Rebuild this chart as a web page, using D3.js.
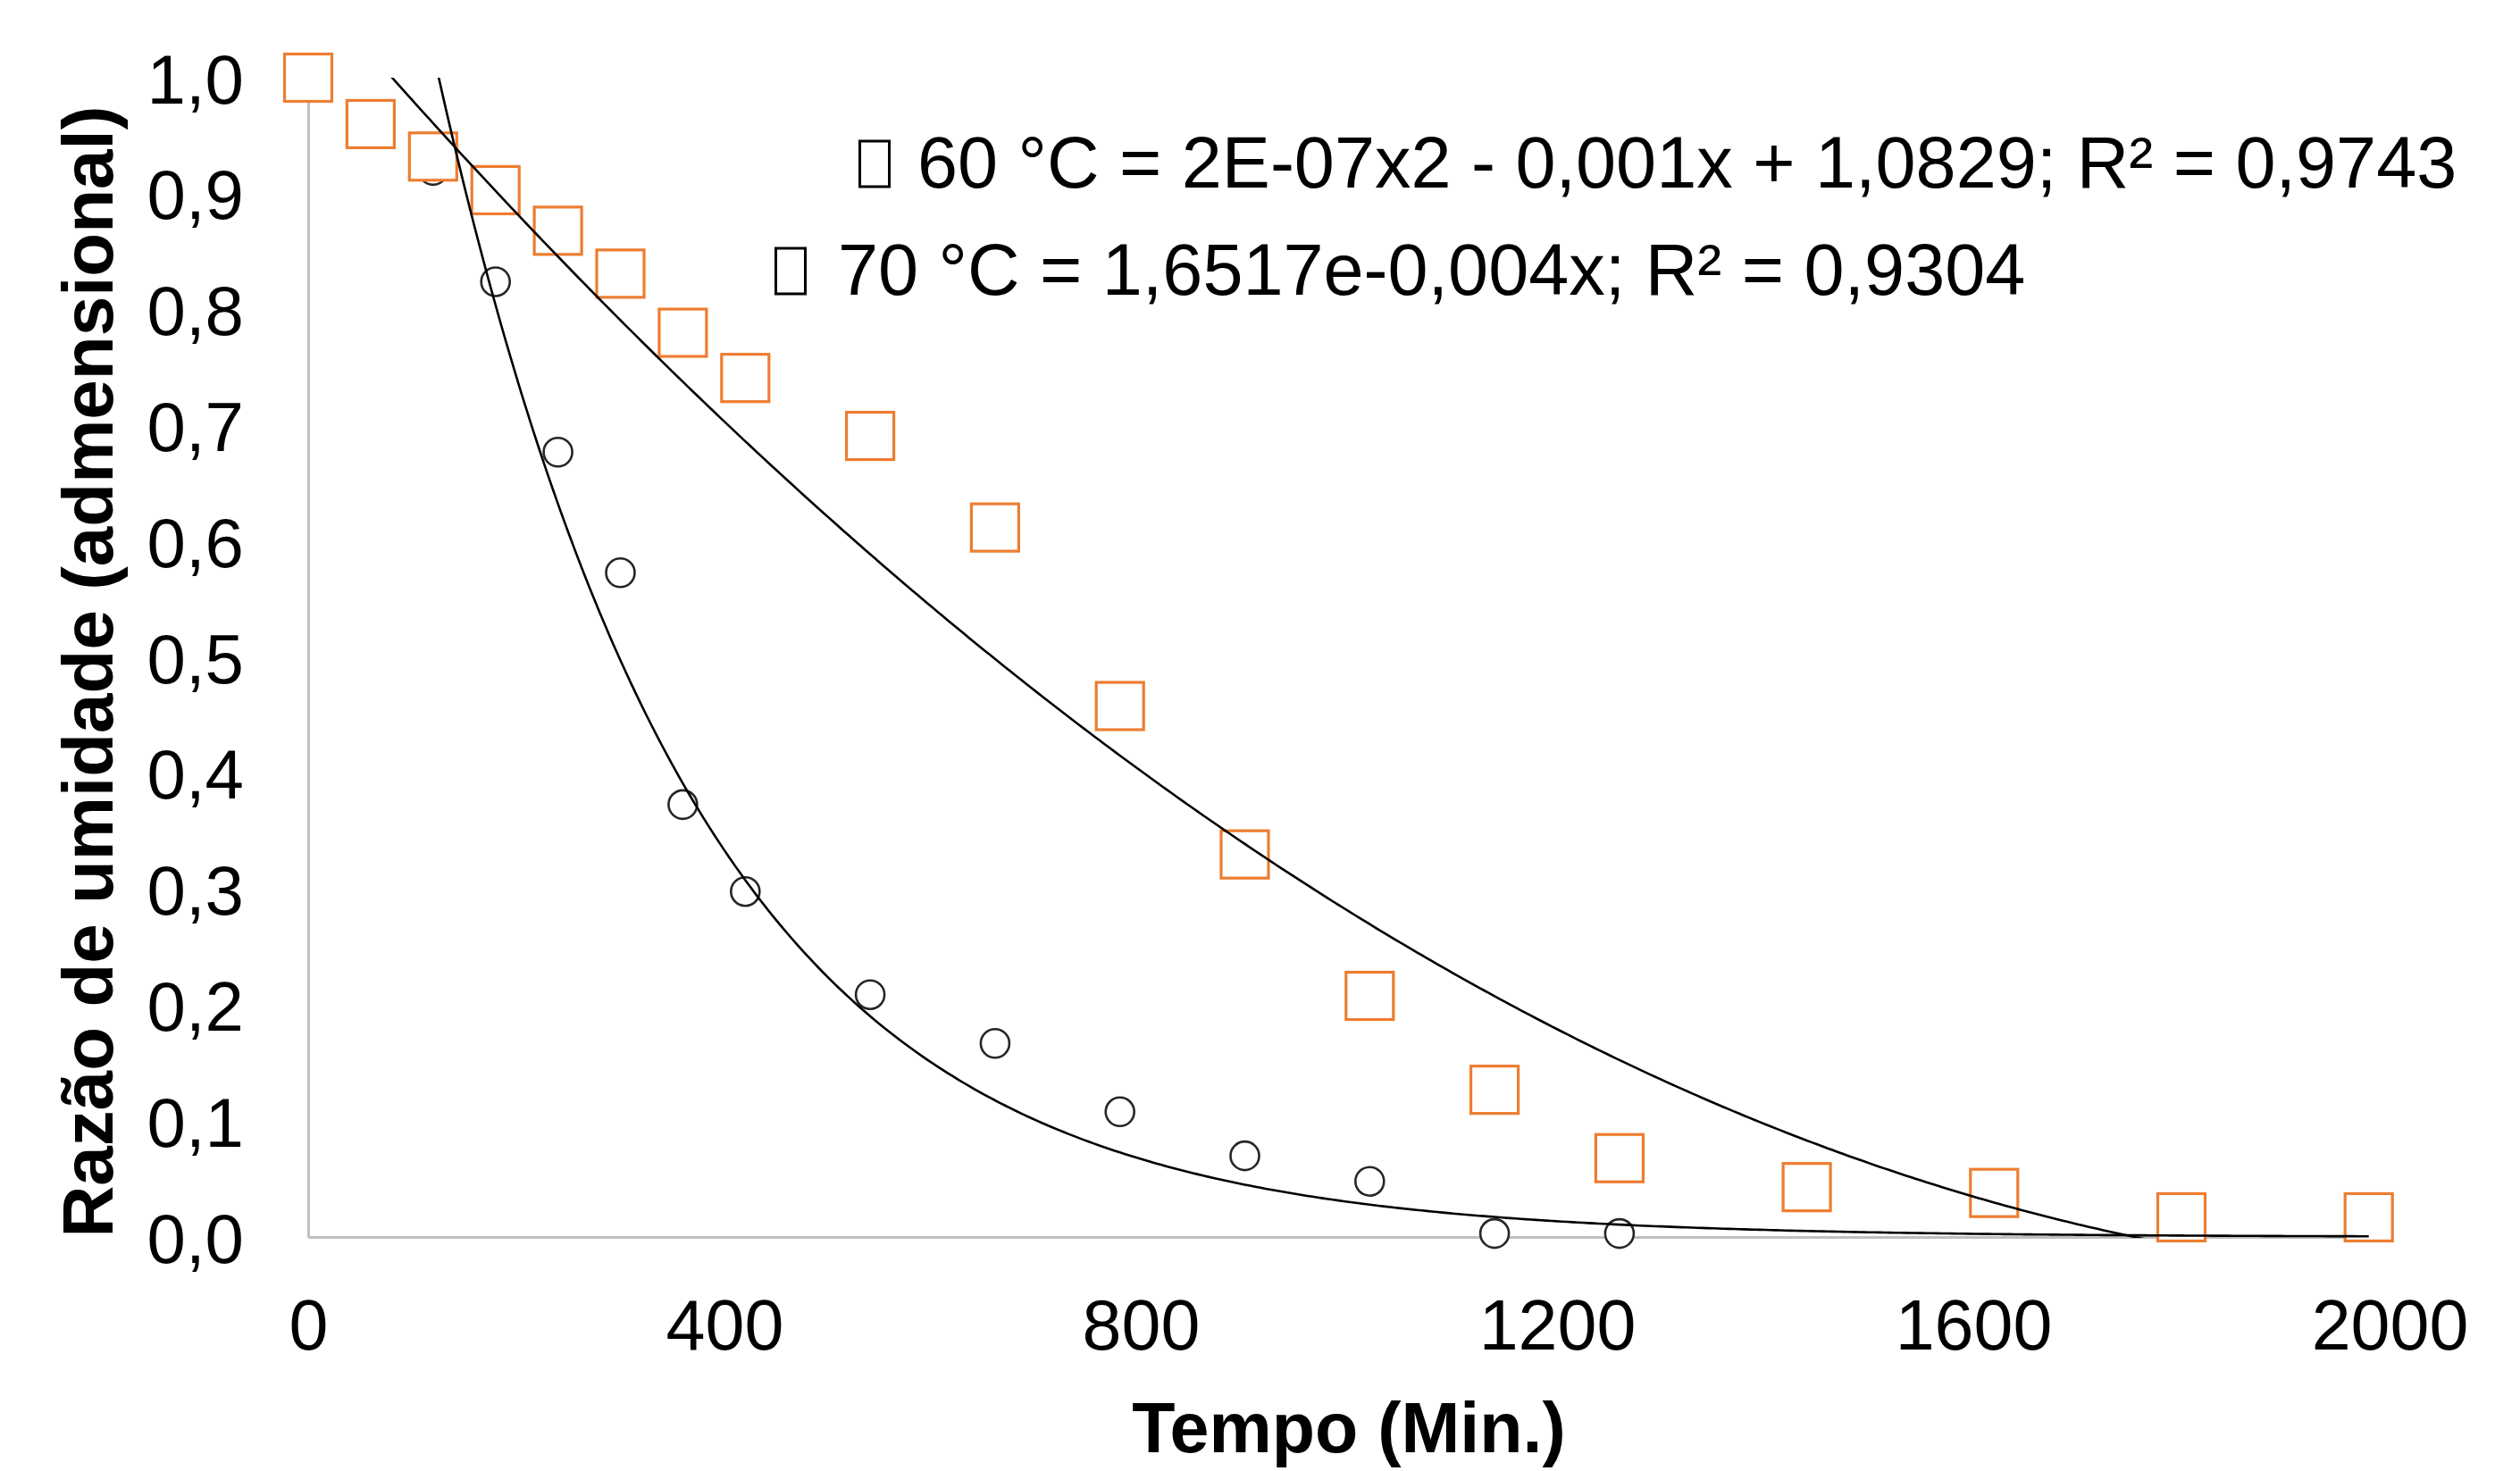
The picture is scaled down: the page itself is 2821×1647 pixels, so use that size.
<!DOCTYPE html>
<html>
<head>
<meta charset="utf-8">
<script src="https://cdn.jsdelivr.net/npm/d3@7"></script>
<style>
  html, body { margin: 0; padding: 0; background: #ffffff; }
  svg { display: block; }
</style>
</head>
<body>
<svg id="chart" width="2821" height="1647"></svg>
<script>
// ---------- data ----------
const time60 = [0, 60, 120, 180, 240, 300, 360, 420, 540, 660, 780, 900, 1020, 1140, 1260, 1440, 1620, 1800, 1980];
const ratio60 = [1.000, 0.960, 0.932, 0.903, 0.868, 0.831, 0.780, 0.741, 0.691, 0.612, 0.458, 0.330, 0.208, 0.127, 0.068, 0.043, 0.038, 0.017, 0.017];

const time70 = [0, 60, 120, 180, 240, 300, 360, 420, 540, 660, 780, 900, 1020, 1140, 1260];
const ratio70 = [1.000, 0.960, 0.920, 0.824, 0.677, 0.573, 0.373, 0.298, 0.209, 0.167, 0.108, 0.070, 0.048, 0.003, 0.003];

// trendline coefficients (polynomial order 2 for 60 °C, exponential for 70 °C)
const poly60 = [2.45e-7, -0.001047, 1.0829];   // a x^2 + b x + c
const exp70 = [1.6517, -0.004];                 // A e^(k x)

const xTicks = [0, 400, 800, 1200, 1600, 2000];
const yTicks = [0, 0.1, 0.2, 0.3, 0.4, 0.5, 0.6, 0.7, 0.8, 0.9, 1.0];

const legendLines = [
  "60 °C = 2E-07x2 - 0,001x + 1,0829; R² = 0,9743",
  "70 °C = 1,6517e-0,004x; R² = 0,9304"
];
const xTitle = "Tempo (Min.)";
const yTitle = "Razão de umidade (admensional)";

// ---------- layout ----------
const svg = d3.select("#chart");
const x = d3.scaleLinear().domain([0, 2000]).range([345, 2675]);
const y = d3.scaleLinear().domain([0, 1]).range([1385, 87]);

const FONT = "'Liberation Sans', Arial, sans-serif";
const fmt = d3.format(".1f");
const comma = v => fmt(v).replace(".", ",");

// axes (no ticks, gray lines)
const xAxis = d3.axisBottom(x).tickValues(xTicks).tickSize(0).tickPadding(0).tickFormat(d3.format("d"));
const yAxis = d3.axisLeft(y).tickValues(yTicks).tickSize(0).tickPadding(0).tickFormat(comma);

const gx = svg.append("g").attr("transform", `translate(0,${y(0)})`).call(xAxis);
gx.select(".domain").attr("stroke", "#bfbfbf").attr("stroke-width", 3);
gx.selectAll(".tick text")
  .attr("font-family", FONT).attr("font-size", 79).attr("fill", "#000")
  .attr("dy", null).attr("y", 126);

const gy = svg.append("g").attr("transform", `translate(${x(0)},0)`).call(yAxis);
gy.select(".domain").attr("stroke", "#bfbfbf").attr("stroke-width", 3);
gy.selectAll(".tick text")
  .attr("font-family", FONT).attr("font-size", 78).attr("fill", "#000")
  .attr("x", -72).attr("dy", "0.36em");

// axis titles
svg.append("text")
  .attr("x", (x(0) + x(2000)) / 2).attr("y", 1626)
  .attr("text-anchor", "middle")
  .attr("font-family", FONT).attr("font-weight", "bold").attr("font-size", 79)
  .attr("fill", "#000").text(xTitle);

svg.append("text")
  .attr("transform", "translate(126,752) rotate(-90)")
  .attr("text-anchor", "middle")
  .attr("font-family", FONT).attr("font-weight", "bold").attr("font-size", 80)
  .attr("fill", "#000").text(yTitle);

// markers: circles (70 °C) under squares (60 °C)
svg.append("g").selectAll("circle")
  .data(time70.map((t, i) => [t, ratio70[i]]))
  .join("circle")
  .attr("cx", d => x(d[0])).attr("cy", d => y(d[1]))
  .attr("r", 16)
  .attr("fill", "#ffffff").attr("stroke", "#262626").attr("stroke-width", 2.6);

const SQ = 53;
svg.append("g").selectAll("rect")
  .data(time60.map((t, i) => [t, ratio60[i]]))
  .join("rect")
  .attr("x", d => x(d[0]) - SQ / 2).attr("y", d => y(d[1]) - SQ / 2)
  .attr("width", SQ).attr("height", SQ)
  .attr("fill", "#ffffff").attr("stroke", "#ED7D31").attr("stroke-width", 3.2);

// trendlines clipped to plot area
svg.append("clipPath").attr("id", "plotclip")
  .append("rect").attr("x", x(0)).attr("y", y(1))
  .attr("width", x(2000) - x(0)).attr("height", y(0) - y(1) + 1);

const samples = d3.range(0, 1980.001, 5);
const line = d3.line().x(d => x(d[0])).y(d => y(d[1]));
const tg = svg.append("g").attr("clip-path", "url(#plotclip)");

tg.append("path")
  .datum(samples.map(t => [t, poly60[0] * t * t + poly60[1] * t + poly60[2]]))
  .attr("d", line).attr("fill", "none").attr("stroke", "#000").attr("stroke-width", 2.6);

tg.append("path")
  .datum(samples.map(t => [t, exp70[0] * Math.exp(exp70[1] * t)]))
  .attr("d", line).attr("fill", "none").attr("stroke", "#000").attr("stroke-width", 2.6);

// trendline labels (with missing-glyph boxes as in the original)
const legendPos = [
  { box: 961, text: 1027, base: 210 },
  { box: 867, text: 938, base: 330 }
];
legendLines.forEach((s, i) => {
  const p = legendPos[i];
  svg.append("rect")
    .attr("x", p.box + 1.5).attr("y", p.base - 52)
    .attr("width", 33).attr("height", 51)
    .attr("fill", "none").attr("stroke", "#000").attr("stroke-width", 3);
  svg.append("text")
    .attr("x", p.text).attr("y", p.base)
    .attr("font-family", FONT).attr("font-size", 81).attr("fill", "#000")
    .text(s);
});
</script>
</body>
</html>
